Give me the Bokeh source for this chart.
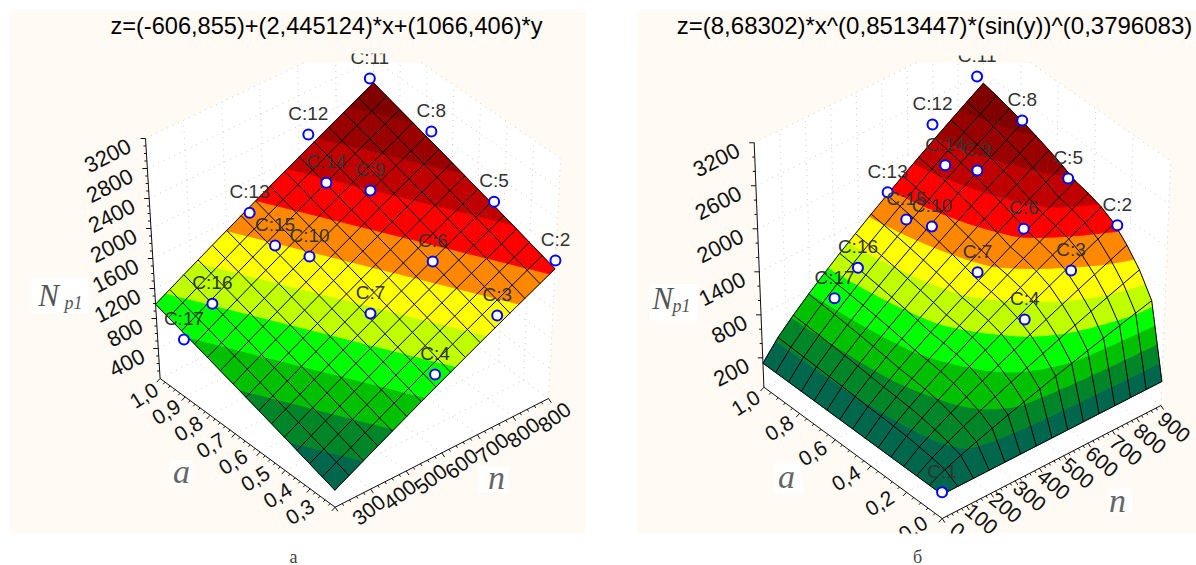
import numpy as np
from bokeh.plotting import figure
from bokeh.models import Range1d
from bokeh.core.properties import value
from bokeh.embed import file_html
from bokeh.resources import INLINE

# ---------- data ----------
title_a = "z=(-606,855)+(2,445124)*x+(1066,406)*y"
title_b = "z=(8,68302)*x^(0,8513447)*(sin(y))^(0,3796083)"

# left surface (values follow the fit printed in its title)
a_n = [300, 400, 500, 600, 700, 800, 900]
a_a = [0.3, 0.4, 0.5, 0.6, 0.7, 0.8, 0.9, 1.0]
a_z = [
    [447, 691, 936, 1180, 1425, 1669, 1914],
    [553, 798, 1042, 1287, 1531, 1776, 2020],
    [660, 904, 1149, 1393, 1638, 1882, 2127],
    [766, 1011, 1255, 1500, 1744, 1989, 2234],
    [873, 1118, 1362, 1607, 1851, 2096, 2340],
    [980, 1224, 1469, 1713, 1958, 2202, 2447],
    [1086, 1331, 1575, 1820, 2064, 2309, 2553],
    [1193, 1438, 1682, 1927, 2171, 2416, 2660],
]
a_levels = [640, 850, 1060, 1265, 1470, 1680, 1880, 2090, 2295, 2500]

# right surface (values follow the fit printed in its title)
b_n = [0, 64.3, 128.6, 192.9, 257.1, 321.4, 385.7, 450, 514.3, 578.6, 642.9, 707.1, 771.4, 835.7, 900]
b_a = [0, 0.0714, 0.1429, 0.2143, 0.2857, 0.3571, 0.4286, 0.5, 0.5714, 0.6429, 0.7143, 0.7857, 0.8571, 0.9286, 1.0]
b_z = [
    [0] * 15,
    [0, 110, 199, 281, 359, 434, 507, 578, 648, 716, 784, 850, 915, 980, 1044],
    [0, 143, 259, 365, 467, 565, 659, 752, 842, 931, 1019, 1105, 1190, 1273, 1356],
    [0, 167, 301, 426, 544, 657, 768, 875, 981, 1084, 1186, 1286, 1385, 1483, 1580],
    [0, 186, 335, 474, 605, 732, 854, 974, 1092, 1207, 1320, 1432, 1542, 1650, 1758],
    [0, 202, 364, 514, 657, 794, 927, 1057, 1185, 1310, 1432, 1554, 1673, 1791, 1908],
    [0, 215, 389, 549, 701, 848, 990, 1129, 1265, 1398, 1530, 1659, 1786, 1912, 2037],
    [0, 227, 410, 579, 740, 895, 1045, 1192, 1335, 1476, 1615, 1751, 1886, 2019, 2151],
    [0, 238, 429, 607, 775, 937, 1094, 1248, 1398, 1545, 1690, 1833, 1974, 2114, 2251],
    [0, 248, 447, 631, 806, 974, 1138, 1298, 1454, 1607, 1758, 1906, 2053, 2198, 2341],
    [0, 256, 462, 652, 833, 1008, 1177, 1342, 1504, 1662, 1818, 1972, 2123, 2273, 2421],
    [0, 264, 476, 672, 858, 1037, 1212, 1382, 1548, 1711, 1872, 2030, 2186, 2340, 2493],
    [0, 270, 488, 689, 880, 1064, 1243, 1417, 1588, 1755, 1920, 2082, 2242, 2400, 2556],
    [0, 276, 498, 704, 899, 1088, 1270, 1448, 1623, 1794, 1962, 2128, 2292, 2453, 2613],
    [0, 282, 508, 717, 916, 1108, 1294, 1476, 1653, 1828, 1999, 2168, 2335, 2500, 2663],
]
b_levels = [242, 484, 727, 969, 1211, 1453, 1695, 1938, 2180, 2422]

band_colors = ["#00664C", "#008528", "#00C000", "#00FF00", "#BFFF00", "#FFFF00",
               "#FF8800", "#FF0000", "#C00000", "#990000", "#800000"]

a_case = ["C:2", "C:3", "C:4", "C:5", "C:6", "C:7", "C:8", "C:9", "C:10", "C:11", "C:12", "C:13", "C:14", "C:15", "C:16", "C:17"]
a_case_n = [900, 745, 577, 900, 736, 567, 900, 737, 571, 890, 725, 563, 689, 548, 453, 371]
a_case_a = [0.3, 0.3, 0.3, 0.538, 0.538, 0.538, 0.78, 0.78, 0.78, 1.0, 1.0, 1.0, 0.881, 0.881, 1.0, 1.0]
a_case_z = [2023, 1671, 1302, 2218, 1828, 1548, 2553, 2170, 1701, 2740, 2400, 1763, 2143, 1658, 838, 565]

b_case = ["C:1", "C:2", "C:3", "C:4", "C:5", "C:6", "C:7", "C:8", "C:9", "C:10", "C:11", "C:12", "C:13", "C:14", "C:15", "C:16", "C:17"]
b_case_n = [0, 900, 717, 532, 900, 724, 539, 893, 715, 533, 875, 698, 517, 661, 504, 393, 296]
b_case_a = [0, 0.269, 0.269, 0.269, 0.538, 0.538, 0.538, 0.78, 0.78, 0.78, 1.0, 1.0, 1.0, 0.881, 0.881, 1.0, 1.0]
b_case_z = [32, 1767, 1441, 1065, 2111, 1662, 1340, 2544, 2102, 1574, 2821, 2408, 1691, 2083, 1531, 734, 443]

a_zticks = [400, 800, 1200, 1600, 2000, 2400, 2800, 3200]
a_aticks = [0.3, 0.4, 0.5, 0.6, 0.7, 0.8, 0.9, 1.0]
a_aticklabels = ["0,3", "0,4", "0,5", "0,6", "0,7", "0,8", "0,9", "1,0"]
a_nticks = [300, 400, 500, 600, 700, 800, 900]
a_nticklabels = ["300", "400", "500", "600", "700", "800", "800"]

b_zticks = [200, 800, 1400, 2000, 2600, 3200]
b_aticks = [0.0, 0.2, 0.4, 0.6, 0.8, 1.0]
b_aticklabels = ["0,0", "0,2", "0,4", "0,6", "0,8", "1,0"]
b_nticks = [0, 100, 200, 300, 400, 500, 600, 700, 800, 900]
b_nticklabels = ["0", "100", "200", "300", "400", "500", "600", "700", "800", "900"]

# ---------- page ----------
CREAM = "#FFFAF3"
SANS = value("Liberation Sans")
SERIF = value("Liberation Serif")

p = figure(width=1196, height=565, x_range=Range1d(0, 1196), y_range=Range1d(565, 0),
           x_axis_type=None, y_axis_type=None, toolbar_location=None, output_backend="svg",
           min_border=0, outline_line_color=None, background_fill_color="white",
           border_fill_color="white")
p.grid.visible = False


class View:
    """Oblique view of the data box, with a small outward lean of the vertical."""
    def __init__(s, n0, n1, a0, a1, O, En, Ea, zs, zo, ws, wo, xc, K, near=0.0):
        s.n0, s.n1, s.a0, s.a1 = n0, n1, a0, a1
        s.O, s.En, s.Ea = O, En, Ea
        s.zs, s.zo, s.ws, s.wo, s.xc, s.K, s.near = zs, zo, ws, wo, xc, K, near

    def base(s, n, a):
        u = (n - s.n0) / (s.n1 - s.n0)
        v = (a - s.a0) / (s.a1 - s.a0)
        return s.O[0] + u * s.En[0] + v * s.Ea[0], s.O[1] + u * s.En[1] + v * s.Ea[1]

    def lift(s, n, a, dz):
        bx, by = s.base(n, a)
        return bx + dz * (bx - s.xc) / s.K, by - dz

    def surf(s, n, a, z):
        v = (a - s.a0) / (s.a1 - s.a0)
        # the vertical scale grows toward the viewer
        w = min(max((0.5 - v) / 0.2, 0.0), 1.0)
        return s.lift(n, a, (s.zs + s.near * w) * z + s.zo)

    def wall(s, n, a, t):
        return s.lift(n, a, s.ws * t + s.wo)


def clip_poly(poly, idx, lim, keep_above):
    """Clip a polygon of (x, y, z) tuples on one coordinate."""
    out = []
    m = len(poly)
    for i in range(m):
        c, d = poly[i], poly[(i + 1) % m]
        ci = c[idx] >= lim if keep_above else c[idx] <= lim
        di = d[idx] >= lim if keep_above else d[idx] <= lim
        if ci:
            out.append(c)
        if ci != di:
            t = (lim - c[idx]) / (d[idx] - c[idx])
            out.append(tuple(c[k] + t * (d[k] - c[k]) for k in range(len(c))))
    return out


def bilinear(ns, As, Z, n, a):
    i = min(np.searchsorted(ns, n, side="right") - 1, len(ns) - 2)
    j = min(np.searchsorted(As, a, side="right") - 1, len(As) - 2)
    i, j = max(i, 0), max(j, 0)
    t = (n - ns[i]) / (ns[i + 1] - ns[i])
    w = (a - As[j]) / (As[j + 1] - As[j])
    return ((1 - t) * (1 - w) * Z[j][i] + t * (1 - w) * Z[j][i + 1]
            + (1 - t) * w * Z[j + 1][i] + t * w * Z[j + 1][i + 1])


def panel(x0, x1):
    p.quad(left=[x0], right=[x1], top=[11], bottom=[533], fill_color=CREAM, line_color=None)


def draw_box(v, n_major, a_major, z_major, z_top, z_minor, a_minor, n_minor):
    floor = -v.wo / v.ws
    corners = [v.wall(v.n0, v.a1, z_top), v.wall(v.n1, v.a1, z_top), v.wall(v.n1, v.a0, z_top),
               v.wall(v.n1, v.a0, floor), v.wall(v.n0, v.a0, floor), v.wall(v.n0, v.a1, floor)]
    poly = clip_poly(corners, 1, 62, True)
    p.patch([c[0] for c in poly], [c[1] for c in poly], fill_color="white", line_color=None)

    xs, ys = [], []
    def seg(a, b):
        q = clip_poly([a, b], 1, 62, True)
        if len(q) >= 2:
            xs.append([q[0][0], q[1][0]])
            ys.append([q[0][1], q[1][1]])
    for n in n_major:
        seg(v.wall(n, v.a1, floor), v.wall(n, v.a1, z_top))
        seg(v.wall(n, v.a0, floor), v.wall(n, v.a1, floor))
    for a in a_major:
        seg(v.wall(v.n1, a, floor), v.wall(v.n1, a, z_top))
        seg(v.wall(v.n0, a, floor), v.wall(v.n1, a, floor))
    for t in z_major:
        seg(v.wall(v.n0, v.a1, t), v.wall(v.n1, v.a1, t))
        seg(v.wall(v.n1, v.a1, t), v.wall(v.n1, v.a0, t))
    p.multi_line(xs, ys, line_color="#CCCCCC", line_width=1, line_dash="1 5")

    lx, ly = [], []
    def add(a, b):
        lx.append([a[0], b[0]])
        ly.append([a[1], b[1]])
    add(v.wall(v.n0, v.a1, floor), v.wall(v.n0, v.a1, z_top))
    add(v.wall(v.n0, v.a0, floor), v.wall(v.n0, v.a1, floor))
    add(v.wall(v.n0, v.a0, floor), v.wall(v.n1, v.a0, floor))
    for t in z_minor:
        q = v.wall(v.n0, v.a1, t)
        add(q, (q[0] - (5 if t in z_major else 2.5), q[1]))
    for a in a_minor:
        q = v.wall(v.n0, a, floor)
        k = 1.7 if any(abs(a - m) < 1e-6 for m in a_major) else 0.9
        add(q, (q[0] - 2 * k, q[1] + 2.2 * k))
    for n in n_minor:
        q = v.wall(n, v.a0, floor)
        k = 1.7 if any(abs(n - m) < 1e-6 for m in n_major) else 0.9
        add(q, (q[0] + 1.6 * k, q[1] + 2.4 * k))
    p.multi_line(lx, ly, line_color="#111111", line_width=1)


def draw_surface(v, ns, As, Z, levels, mesh_n, mesh_a):
    lo = [-1e9] + list(levels)
    hi = list(levels) + [1e9]
    px = [[] for _ in band_colors]
    py = [[] for _ in band_colors]
    node = lambda n, a: (*v.surf(n, a, bilinear(ns, As, Z, n, a)), bilinear(ns, As, Z, n, a))
    for j in range(len(mesh_a) - 1):
        for i in range(len(mesh_n) - 1):
            c00 = node(mesh_n[i], mesh_a[j])
            c10 = node(mesh_n[i + 1], mesh_a[j])
            c01 = node(mesh_n[i], mesh_a[j + 1])
            c11 = node(mesh_n[i + 1], mesh_a[j + 1])
            for tri in ((c00, c10, c11), (c00, c11, c01)):
                for b in range(len(band_colors)):
                    q = clip_poly(list(tri), 2, lo[b], True)
                    if q:
                        q = clip_poly(q, 2, hi[b], False)
                    if len(q) >= 3:
                        px[b].append([c[0] for c in q])
                        py[b].append([c[1] for c in q])
    for b, col in enumerate(band_colors):
        if px[b]:
            p.patches(px[b], py[b], fill_color=col, line_color=col, line_width=0.8)

    xs, ys = [], []
    for a in mesh_a:
        pts = [v.surf(n, a, bilinear(ns, As, Z, n, a)) for n in mesh_n]
        xs.append([q[0] for q in pts])
        ys.append([q[1] for q in pts])
    for n in mesh_n:
        pts = [v.surf(n, a, bilinear(ns, As, Z, n, a)) for a in mesh_a]
        xs.append([q[0] for q in pts])
        ys.append([q[1] for q in pts])
    p.multi_line(xs, ys, line_color="#000000", line_width=1)


def draw_cases(v, names, ns, As, Zs):
    pts = [v.surf(n, a, z) for n, a, z in zip(ns, As, Zs)]
    x = [q[0] for q in pts]
    y = [q[1] for q in pts]
    p.scatter(x, y, size=10, marker="circle", fill_color="white", line_color="#0000FF", line_width=2)
    p.text(x, [q - 21 for q in y], text=names, text_font=SANS, text_font_size="19px",
           text_color="#333333", text_align="center", text_baseline="middle")


def tick_text(pts, labels, start_off, end_off, angle, size, align="center"):
    m = len(pts)
    xs, ys = [], []
    for i, q in enumerate(pts):
        t = i / (m - 1)
        xs.append(q[0] + start_off[0] + t * (end_off[0] - start_off[0]))
        ys.append(q[1] + start_off[1] + t * (end_off[1] - start_off[1]))
    p.text(xs, ys, text=labels, angle=np.deg2rad(angle), text_font=SANS, text_font_size=size,
           text_color="#111111", text_align=align, text_baseline="middle")


def boxed(x0, x1, y0, y1):
    p.quad(left=[x0], right=[x1], top=[y0], bottom=[y1], fill_color="white", line_color=None)


def serif_it(x, y, s, size, color="#555555"):
    p.text([x], [y], text=[s], text_font=SERIF, text_font_style="italic", text_font_size=size,
           text_color=color, text_align="center", text_baseline="middle")


# ---------- left panel ----------
panel(9, 585)
va = View(300, 900, 0.3, 1.0, (334.6, 506.7), (213.4, -108.7), (-175.0, -128.7),
          0.0768, -17.36, 0.075, 0.0, 372, 3500)
draw_box(va, a_nticks, a_aticks, a_zticks, 3200,
         list(range(100, 3300, 100)), list(np.arange(0.3, 1.001, 0.02)), list(range(300, 901, 20)))
draw_surface(va, a_n, a_a, a_z, a_levels,
             list(np.linspace(300, 900, 16)), list(np.linspace(0.3, 1.0, 15)))
draw_cases(va, a_case, a_case_n, a_case_a, a_case_z)

tick_text([va.wall(300, 1.0, t) for t in a_zticks], [str(t) for t in a_zticks],
          (-15, 6), (-16, 6), 27, "22px", "right")
tick_text([va.wall(300, a, 0.0) for a in a_aticks], a_aticklabels,
          (-35, 5), (-16, 17), 32, "21px")
tick_text([va.wall(n, 0.3, 0.0) for n in a_nticks], a_nticklabels,
          (34, 3), (6, 19), 38, "21px")

boxed(31, 88, 277, 313)
serif_it(48, 295, "N", "31px")
serif_it(73, 302, "p1", "18px")
boxed(169, 192, 460, 485)
serif_it(181, 471, "a", "34px", "#666666")
boxed(478, 508, 465, 492)
serif_it(496, 477, "n", "34px", "#666666")
p.quad(left=[9], right=[585], top=[11], bottom=[53], fill_color=CREAM, line_color=None)

# ---------- right panel ----------
panel(637, 1196)
vb = View(0, 900, 0.0, 1.0, (941.7, 518.0), (218.7, -113.0), (-178.3, -131.3),
          0.0627, 24.0, 0.0717, 15.0, 962, 5000, near=0.0058)
floor_b = -15.0 / 0.0717
draw_box(vb, b_nticks, b_aticks, b_zticks, 3200,
         list(range(200, 3300, 200)), list(np.arange(0, 1.001, 0.04)), list(range(0, 901, 20)))
draw_surface(vb, b_n, b_a, b_z, b_levels, b_n, b_a)
draw_cases(vb, b_case, b_case_n, b_case_a, b_case_z)

tick_text([vb.wall(0, 1.0, t) for t in b_zticks], [str(t) for t in b_zticks],
          (-15, 6), (-16, 6), 27, "22px", "right")
tick_text([vb.wall(0, a, floor_b) for a in b_aticks], b_aticklabels,
          (-29, 10), (-18, 16), 32, "21px")
tick_text([vb.wall(n, 0.0, floor_b) for n in b_nticks], b_nticklabels,
          (15, 12), (13, 22), -40, "21px")

boxed(649, 697, 284, 320)
serif_it(662, 298, "N", "31px")
serif_it(681, 305, "p1", "18px")
boxed(773, 802, 463, 493)
serif_it(786, 476, "a", "34px", "#666666")
boxed(1107, 1132, 488, 512)
serif_it(1117, 500, "n", "34px", "#666666")
p.quad(left=[637], right=[1196], top=[11], bottom=[55], fill_color=CREAM, line_color=None)

# ---------- below the panels, titles and captions ----------
p.quad(left=[0], right=[1196], top=[533], bottom=[565], fill_color="white", line_color=None)
p.text([326], [25], text=[title_a], text_font=SANS, text_font_size="23.6px", text_color="#000000",
       text_align="center", text_baseline="middle")
p.text([934], [25], text=[title_b], text_font=SANS, text_font_size="24px", text_color="#000000",
       text_align="center", text_baseline="middle")
p.text([293, 917], [556, 556], text=["а", "б"], text_font=SERIF, text_font_size="18px",
       text_color="#444444", text_align="center", text_baseline="middle")

open("out.html", "w").write(file_html(p, INLINE))
